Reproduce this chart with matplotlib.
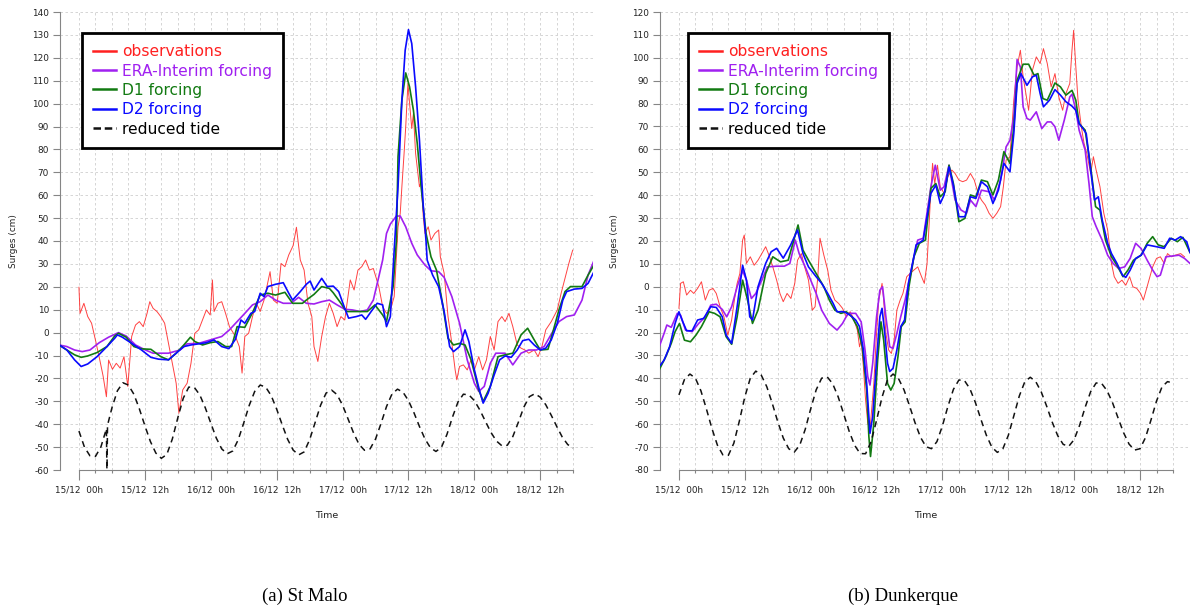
import matplotlib
matplotlib.use("Agg")
import matplotlib.pyplot as plt
from matplotlib.lines import Line2D

# ---------------- data (time in hours from 15/12 00h, surge in cm) ----------------
tick_hours = [0, 12, 24, 36, 48, 60, 72, 84]
tick_labels = ["15/12  00h", "15/12  12h", "16/12  00h", "16/12  12h",
               "17/12  00h", "17/12  12h", "18/12  00h", "18/12  12h"]
minor_hours = [3 * i for i in range(31)]
captions = ["(a) St Malo", "(b) Dunkerque"]
legend_labels = ["observations", "ERA-Interim forcing", "D1 forcing", "D2 forcing", "reduced tide"]

# ---- St Malo ----
stmalo_obs_t = [0, 0.2, 0.9, 1.6, 2.3, 3.0, 3.8, 4.4, 5.0, 5.4, 6.1, 6.8, 7.5, 8.2, 8.9, 9.6, 10.3, 11.0, 11.7,
                12.4, 12.9, 13.5, 14.2, 14.9, 15.6, 16.3, 17.0, 17.7, 18.2, 18.9, 19.7, 20.4, 21.1, 21.8, 22.5,
                23.2, 23.9, 24.3, 24.6, 25.3, 26.0, 26.7, 27.4, 28.5, 29.2, 29.7, 30.2, 30.9, 31.6, 32.3, 33.0,
                33.7, 34.8, 35.4, 36.1, 36.8, 37.5, 38.2, 39.0, 39.6, 40.3, 41.0, 41.7, 42.4, 42.8, 43.5, 44.2,
                44.9, 45.6, 46.3, 47.0, 47.7, 48.4, 49.4, 50.1, 50.8, 51.5, 52.2, 52.9, 53.6, 54.6, 55.3, 56.0,
                56.7, 57.4, 58.1, 58.5, 58.8, 59.2, 59.5, 59.9, 60.1, 60.6, 60.9, 61.3, 62.0, 62.3, 62.7, 63.0,
                63.6, 64.1, 64.8, 65.5, 65.8, 66.5, 67.2, 67.9, 68.5, 68.8, 69.3, 70.0, 70.7, 71.4, 72.0, 72.8,
                73.5, 74.2, 74.9, 75.6, 76.3, 77.0, 77.6, 78.3, 79.0, 79.8, 80.5, 81.2, 81.9, 82.9, 83.6, 84.3,
                85.0, 86.0, 87.1, 87.8, 88.5, 89.2, 89.9]
stmalo_obs_v = [19.8, 8.4, 12.8, 7.0, 4.1, -3.2, -12.0, -19.0, -28.0, -12.0, -16.0, -13.4, -15.5, -10.5, -23.5,
                -1.7, 3.3, 4.8, 2.6, 8.4, 13.5, 10.6, 9.2, 7.0, 4.1, -4.7, -13.4, -22.1, -35.2, -25.0, -22.1,
                -13.4, -0.3, 1.2, 5.5, 9.9, 7.7, 23.0, 9.2, 12.8, 13.5, 8.4, 2.6, -1.7, -6.1, -17.7, -1.7, -0.3,
                7.0, 12.8, 9.2, 14.2, 26.6, 14.2, 12.8, 30.2, 28.8, 33.9, 38.0, 46.0, 31.7, 27.3, 12.8, 7.0,
                -6.1, -12.6, -1.7, 7.0, 12.8, 8.4, 2.6, 7.0, 5.5, 23.0, 18.6, 27.3, 28.8, 31.7, 27.3, 28.0,
                20.1, 11.3, 8.4, 9.9, 15.7, 46.2, 52.0, 63.7, 78.2, 89.9, 108.8, 103.0, 89.1, 95.7, 78.2, 63.7,
                65.9, 50.6, 43.3, 46.2, 40.4, 43.3, 44.8, 33.1, 25.9, 7.0, -4.7, -16.3, -20.6, -14.8, -14.1,
                -16.3, -11.9, -16.3, -10.5, -16.3, -11.9, -1.7, -7.6, 4.8, 7.0, 4.8, 8.4, 2.6, -5.4, -6.8, -7.6,
                -9.0, -7.6, -10.5, -6.1, 1.2, 4.8, 9.9, 17.2, 23.7, 30.2, 36.0]

stmalo_era_t = [-3.6, -2.2, -0.8, 0.6, 2.0, 3.7, 5.4, 7.2, 8.6, 10.3, 12.1, 13.5, 16.3, 18.4, 19.7, 21.8, 23.9,
                26.0, 27.4, 28.8, 30.2, 31.6, 33.0, 34.4, 35.8, 37.2, 38.6, 40.0, 41.4, 42.8, 44.2, 45.6, 47.0,
                48.4, 49.8, 51.2, 52.5, 53.6, 54.6, 55.3, 56.0, 56.7, 57.8, 58.5, 59.5, 60.6, 61.6, 63.0, 64.1,
                65.5, 66.5, 67.9, 69.3, 70.7, 72.0, 72.8, 73.8, 74.9, 75.9, 77.6, 79.0, 80.5, 81.9, 83.3, 84.7,
                86.1, 87.4, 88.8, 90.2, 91.6, 92.7, 93.7]
stmalo_era_v = [-5.4, -6.1, -7.6, -8.3, -7.6, -4.4, -2.0, 0.0, -1.5, -5.4, -7.6, -9.0, -9.0, -7.6, -4.9, -4.7,
                -3.2, -1.7, 1.2, 4.8, 8.4, 12.1, 13.5, 16.4, 14.2, 12.8, 12.8, 15.4, 12.8, 12.5, 13.5, 14.2, 12.1,
                10.2, 9.9, 9.2, 9.9, 14.2, 24.4, 31.7, 43.3, 47.4, 50.9, 50.9, 46.2, 39.0, 33.9, 29.5, 27.0,
                26.6, 24.1, 15.7, 4.1, -11.9, -22.1, -25.7, -23.5, -13.4, -9.0, -9.0, -14.1, -9.0, -7.6, -7.6,
                -6.1, -0.3, 4.8, 7.0, 7.7, 14.2, 25.1, 31.0]

stmalo_d1_t = [-3.6, -2.2, -0.8, 0.4, 1.6, 3.3, 5.1, 6.5, 7.2, 8.6, 10.0, 11.4, 13.1, 14.9, 16.3, 17.7, 19.1,
               20.3, 21.1, 22.5, 23.9, 25.3, 26.7, 27.8, 28.8, 30.2, 31.6, 33.0, 34.4, 35.8, 37.5, 38.9, 40.7,
               41.4, 42.8, 44.2, 45.6, 46.3, 47.7, 48.7, 50.5, 52.5, 53.9, 55.3, 56.0, 57.2, 57.8, 58.1, 58.8,
               59.5, 60.2, 60.9, 61.6, 62.3, 63.2, 64.1, 65.1, 66.2, 67.2, 68.2, 69.3, 70.3, 71.4, 72.8, 73.6,
               74.9, 76.3, 77.6, 79.0, 80.5, 81.7, 82.9, 84.0, 85.4, 86.4, 87.4, 88.5, 89.5, 91.6, 92.7, 93.7]
stmalo_d1_v = [-5.4, -7.6, -9.7, -10.8, -10.2, -8.7, -6.1, -1.5, -0.3, -2.0, -6.1, -7.1, -7.3, -10.5, -11.9,
               -9.0, -5.4, -2.0, -3.9, -5.4, -4.4, -3.9, -6.1, -6.1, 2.6, 2.3, 8.7, 16.4, 17.2, 16.4, 17.6, 12.8,
               12.8, 14.2, 16.7, 20.1, 19.3, 17.4, 12.8, 9.2, 9.2, 9.2, 12.1, 7.7, 4.8, 20.0, 40.0, 76.8, 101.5,
               113.4, 107.3, 97.1, 82.6, 63.7, 43.3, 33.1, 27.3, 12.8, -2.5, -5.4, -4.7, -5.4, -11.9, -25.0,
               -30.1, -23.5, -10.5, -9.7, -9.0, -1.0, 1.9, -3.2, -7.6, -7.3, 1.2, 9.9, 17.9, 20.1, 20.1, 25.1,
               29.2]

stmalo_d2_t = [-3.6, -2.2, -0.8, 0.4, 1.6, 3.3, 5.1, 6.5, 7.0, 7.9, 9.6, 11.4, 13.1, 14.5, 16.3, 17.7, 19.1,
               20.4, 21.8, 23.2, 24.6, 26.0, 27.3, 28.5, 29.5, 30.2, 31.3, 32.0, 33.0, 33.7, 34.4, 35.8, 37.2,
               38.2, 38.9, 40.3, 41.4, 42.1, 42.8, 44.2, 45.2, 46.3, 47.3, 48.4, 49.1, 50.5, 51.5, 52.2, 53.2,
               54.3, 55.3, 56.0, 56.7, 57.4, 58.1, 58.8, 59.4, 60.0, 60.6, 61.3, 62.0, 62.7, 63.2, 63.4, 64.4,
               65.5, 66.5, 67.5, 68.2, 69.3, 70.3, 71.0, 72.0, 72.9, 73.6, 74.5, 75.6, 76.6, 77.6, 78.7, 79.8,
               80.8, 81.9, 82.9, 84.0, 85.0, 86.0, 87.1, 88.1, 88.8, 90.2, 91.6, 92.7, 93.7]
stmalo_d2_v = [-5.4, -7.6, -11.9, -14.8, -13.7, -10.5, -6.1, -2.5, -1.0, -2.0, -4.7, -7.6, -10.8, -11.6, -11.9,
               -9.0, -6.1, -5.4, -4.9, -4.4, -3.2, -6.1, -7.0, -2.9, 5.5, 4.1, 8.4, 9.2, 17.2, 15.7, 20.1, 21.1,
               21.8, 17.2, 14.2, 17.9, 21.1, 22.5, 18.6, 23.7, 20.1, 20.3, 17.9, 10.6, 6.3, 7.0, 7.7, 5.8, 9.2,
               12.8, 12.1, 2.6, 7.0, 36.0, 63.7, 101.5, 123.3, 132.3, 126.2, 107.3, 84.0, 55.0, 40.0, 31.7,
               25.1, 20.0, 9.2, -6.1, -8.3, -6.1, 1.2, -3.9, -16.3, -25.0, -30.8, -26.5, -18.5, -11.9, -10.2,
               -10.8, -7.6, -3.5, -2.9, -5.4, -7.6, -6.8, -3.2, 4.1, 14.2, 17.9, 19.0, 19.3, 21.5, 26.2]

stmalo_tide_t = [0, 1, 2, 3, 4, 5, 5.1, 5.2, 6, 7, 8, 9, 10, 11, 12, 13, 14, 15, 16, 17, 18, 19, 20, 21, 22,
                 23, 24, 25, 26, 27, 28, 29, 30, 31, 32, 33, 34, 35, 36, 37, 38, 39, 40, 41, 42, 43, 44, 45,
                 46, 47, 48, 49, 50, 51, 52, 53, 54, 55, 56, 57, 58, 59, 60, 61, 62, 63, 64, 65, 66, 67, 68,
                 69, 70, 71, 72, 73, 74, 75, 76, 77, 78, 79, 80, 81, 82, 83, 84, 85, 86, 87, 88, 89, 90]
stmalo_tide_v = [-43.0, -50.0, -53.8, -54.1, -49.9, -42.0, -62.0, -40.5, -32.9, -25.4, -21.9, -22.9, -26.9,
                 -33.3, -40.6, -47.5, -52.6, -54.9, -53.2, -46.5, -37.2, -28.6, -23.8, -23.9, -27.2, -32.8,
                 -39.5, -46.0, -50.8, -52.9, -51.7, -46.8, -39.5, -31.8, -25.7, -22.9, -23.8, -27.5, -33.4,
                 -40.2, -46.6, -51.3, -53.4, -52.1, -46.8, -39.3, -31.7, -26.4, -25.1, -27.1, -31.7, -37.7,
                 -43.8, -48.8, -51.4, -50.8, -46.5, -39.7, -32.3, -26.8, -24.7, -26.0, -29.7, -35.0, -41.0,
                 -46.4, -50.3, -51.9, -50.1, -44.5, -37.0, -30.4, -26.9, -27.2, -29.7, -33.8, -38.7, -43.5,
                 -47.3, -49.4, -49.2, -45.4, -39.2, -32.6, -28.0, -26.7, -28.2, -31.5, -36.1, -41.0, -45.6,
                 -48.9, -50.4]

# ---- Dunkerque ----
dunk_obs_t = [0, 0.3, 0.8, 1.4, 2.1, 2.7, 3.4, 4.1, 4.8, 5.5, 6.2, 6.8, 7.5, 8.2, 8.9, 9.6, 10.1, 10.6, 11.1,
              11.6, 11.9, 12.3, 13.0, 13.7, 14.4, 15.1, 15.8, 16.4, 17.1, 17.8, 18.4, 19.0, 19.7, 20.4, 21.1,
              21.6, 22.3, 22.9, 23.6, 24.3, 24.8, 25.3, 25.7, 26.4, 27.1, 27.7, 28.4, 29.1, 29.8, 30.5, 31.2,
              31.8, 32.5, 32.9, 33.2, 33.6, 34.0, 34.4, 34.8, 35.1, 35.5, 36.0, 36.4, 37.0, 37.3, 37.7, 38.2,
              38.7, 39.2, 39.7, 40.3, 40.8, 41.5, 42.1, 42.8, 43.5, 44.2, 44.7, 45.2, 45.8, 46.2, 46.6, 47.1,
              47.6, 48.3, 49.0, 49.7, 50.3, 51.0, 51.7, 52.4, 53.1, 53.8, 54.5, 55.1, 55.8, 56.5, 57.2, 57.9,
              58.6, 59.1, 59.6, 60.3, 61.0, 61.6, 62.2, 62.7, 63.2, 63.7, 64.4, 65.1, 65.8, 66.4, 67.1, 67.8,
              68.5, 69.2, 69.9, 70.5, 71.2, 71.6, 71.9, 72.3, 72.7, 73.3, 73.8, 74.3, 75.0, 75.5, 76.0, 76.7,
              77.4, 78.1, 78.8, 79.3, 80.0, 80.7, 81.4, 82.1, 82.7, 83.4, 84.1, 84.6, 85.1, 85.6, 86.3, 87.0,
              87.7, 88.4, 89.0, 89.7, 90.4, 91.4, 92.1]
dunk_obs_v = [-9.4, 1.5, 2.2, -3.6, -1.5, -2.9, -0.7, 2.2, -5.8, -1.5, -0.7, -2.9, -8.7, -13.1, -21.1, -14.5,
              -5.8, 1.5, 5.8, 20.4, 22.6, 10.2, 13.1, 9.4, 11.6, 14.5, 17.5, 13.8, 8.7, 2.9, -2.9, -6.5, -2.9,
              -5.1, 1.5, 11.6, 14.5, 8.7, 2.9, -10.2, -8.7, 4.4, 21.2, 13.8, 7.3, -1.5, -5.8, -7.3, -9.4,
              -13.1, -10.9, -13.8, -18.9, -26.2, -23.3, -34.9, -49.4, -59.6, -62.5, -53.8, -42.2, -20.3, -5.8,
              1.5, -5.8, -20.3, -27.6, -29.1, -23.3, -10.2, -5.8, -2.9, 4.4, 5.8, 7.3, 8.7, 4.4, 1.5, 10.2,
              37.9, 53.9, 45.1, 53.1, 43.7, 40.8, 48.1, 51.0, 49.5, 46.6, 45.9, 46.6, 49.5, 46.6, 40.8, 37.9,
              35.7, 32.1, 29.9, 32.1, 35.0, 43.7, 55.3, 56.8, 81.5, 96.0, 103.3, 91.7, 84.4, 77.1, 94.6, 100.4,
              97.5, 104.0, 97.5, 87.3, 93.1, 82.9, 77.1, 84.4, 88.8, 103.3, 112.0, 96.0, 81.5, 69.9, 62.6, 58.3,
              49.5, 56.8, 51.0, 43.7, 32.1, 24.8, 10.2, 4.4, 1.5, 2.9, 0.7, 4.4, 0.0, -0.7, -2.9, -5.8, -1.5,
              2.9, 8.7, 12.4, 13.1, 10.2, 14.5, 13.1, 13.8, 14.5, 13.1]

dunk_era_t = [-3.6, -2.7, -2.2, -1.4, -0.3, 0.3, 1.2, 2.4, 3.6, 4.8, 5.8, 6.8, 7.9, 8.7, 9.6, 10.6, 11.6, 12.3,
              13.2, 14.0, 15.1, 16.1, 17.8, 19.2, 20.2, 21.2, 21.9, 23.0, 24.0, 25.0, 26.0, 27.4, 28.8, 29.8,
              30.8, 32.2, 33.2, 33.9, 34.4, 34.8, 35.3, 36.0, 36.6, 37.1, 37.7, 38.4, 39.0, 39.7, 40.4, 41.2,
              42.1, 42.8, 43.5, 44.5, 45.9, 46.7, 47.6, 48.3, 49.2, 50.3, 51.4, 52.4, 53.1, 54.1, 55.1, 56.5,
              57.5, 58.6, 59.6, 60.3, 61.0, 61.6, 62.2, 62.7, 63.4, 64.0, 65.1, 66.1, 67.1, 67.8, 68.5, 69.2,
              70.2, 71.2, 71.6, 72.3, 72.9, 74.0, 74.7, 75.3, 76.0, 77.1, 78.1, 79.1, 80.1, 81.2, 82.2, 83.2,
              84.2, 85.3, 86.3, 87.1, 87.7, 88.7, 89.7, 91.1, 92.1, 93.1]
dunk_era_v = [-26.2, -20.3, -16.7, -17.7, -11.6, -12.4, -18.9, -19.6, -16.0, -13.1, -8.0, -7.6, -9.9, -13.1,
              -8.7, 0.0, 7.0, 2.9, -5.1, -2.9, 2.9, 8.7, 9.0, 9.0, 10.2, 20.4, 14.5, 8.7, 2.9, -2.9, -10.2,
              -16.0, -18.9, -16.0, -11.6, -11.6, -15.3, -27.6, -39.2, -42.9, -33.4, -13.1, -1.5, 0.0, -13.1,
              -26.2, -26.9, -20.3, -13.1, -5.8, 4.4, 13.1, 20.4, 21.2, 43.7, 53.1, 42.2, 43.7, 53.1, 37.9,
              33.5, 32.1, 37.9, 35.0, 42.2, 41.5, 37.9, 46.6, 61.1, 64.0, 74.2, 99.2, 96.0, 78.6, 73.5, 72.8,
              76.4, 69.1, 72.0, 72.0, 69.9, 64.0, 72.8, 82.9, 84.1, 77.1, 68.4, 59.7, 45.1, 30.6, 26.3, 20.4,
              13.8, 10.2, 8.0, 8.7, 12.4, 19.0, 16.7, 11.6, 7.3, 4.4, 5.1, 13.1, 13.4, 13.8, 12.4, 10.2]

dunk_d1_t = [-3.6, -2.4, -1.4, -0.7, 0.1, 1.0, 2.1, 3.1, 4.1, 5.5, 6.5, 7.5, 8.6, 9.6, 10.6, 11.6, 12.5, 13.4,
             14.4, 15.8, 17.1, 18.5, 19.9, 21.7, 22.6, 23.6, 25.0, 26.4, 27.4, 28.4, 29.5, 30.5, 31.5, 32.5,
             33.4, 34.2, 34.6, 34.9, 35.5, 36.2, 36.8, 37.3, 38.0, 38.6, 39.2, 39.9, 40.5, 41.2, 41.9, 42.8,
             43.8, 44.9, 45.9, 46.8, 47.6, 48.5, 49.2, 50.0, 51.0, 52.1, 53.1, 54.1, 55.1, 56.2, 57.2, 58.2,
             59.2, 60.3, 61.0, 61.6, 62.7, 63.7, 64.7, 65.4, 66.3, 67.1, 68.5, 69.5, 70.5, 71.6, 72.3, 72.9,
             74.0, 75.0, 75.9, 76.7, 77.7, 78.8, 79.8, 80.9, 81.8, 82.8, 84.2, 85.3, 86.3, 87.3, 88.4, 89.7,
             90.8, 91.8, 93.1]
dunk_d1_v = [-36.3, -30.5, -24.7, -19.6, -16.0, -23.3, -24.0, -21.1, -17.4, -10.9, -11.6, -13.1, -21.8, -25.1,
             -13.1, 2.9, -5.8, -16.0, -10.2, 5.8, 13.1, 10.9, 11.6, 27.0, 16.0, 11.6, 5.8, 0.0, -5.8, -10.2,
             -11.6, -10.9, -13.1, -17.4, -26.2, -45.1, -65.4, -74.1, -59.6, -32.0, -15.3, -23.3, -42.2, -45.1,
             -42.2, -30.5, -17.4, -15.3, 0.0, 13.1, 19.0, 20.4, 43.0, 45.1, 39.3, 41.5, 53.1, 45.1, 28.4, 29.9,
             40.1, 39.3, 46.6, 45.9, 40.1, 46.6, 59.0, 53.9, 69.9, 90.2, 97.2, 97.2, 92.4, 93.1, 82.2, 81.5,
             89.0, 87.3, 83.7, 85.8, 81.5, 71.3, 68.4, 52.4, 35.0, 33.5, 20.4, 13.1, 9.4, 4.4, 7.3, 11.6, 13.8,
             19.0, 21.9, 18.3, 17.5, 21.2, 19.7, 21.6, 15.0]

dunk_d2_t = [-3.6, -2.7, -1.7, -0.7, 0.0, 0.7, 1.4, 2.4, 3.4, 4.5, 5.8, 6.8, 7.9, 8.6, 9.6, 10.6, 11.6, 12.3,
             12.9, 13.4, 14.4, 15.8, 16.8, 17.8, 19.0, 20.3, 21.6, 22.6, 23.6, 25.0, 26.0, 27.1, 28.1, 28.8,
             30.1, 31.2, 32.2, 32.9, 33.6, 34.2, 34.8, 35.3, 36.0, 36.6, 37.0, 37.5, 38.0, 38.4, 39.0, 39.7,
             40.4, 41.1, 41.8, 42.8, 43.2, 44.5, 45.9, 46.8, 47.6, 48.3, 49.2, 50.0, 51.0, 52.1, 53.1, 54.1,
             55.1, 56.2, 57.2, 58.2, 59.2, 60.3, 61.0, 61.6, 62.3, 63.4, 64.4, 65.1, 65.8, 66.4, 67.5, 68.5,
             69.5, 70.5, 71.6, 72.3, 72.9, 73.6, 74.2, 75.0, 75.7, 76.4, 77.1, 78.1, 78.8, 79.8, 80.8, 81.4,
             82.2, 83.2, 84.2, 85.3, 87.0, 88.4, 89.4, 90.4, 91.4, 92.5, 93.1]
dunk_d2_v = [-34.9, -32.0, -26.2, -16.0, -10.9, -15.3, -19.2, -19.2, -14.5, -13.8, -8.7, -9.0, -13.1, -21.1,
             -24.7, -8.7, 9.4, 2.9, -13.1, -14.5, 0.0, 10.2, 15.3, 16.8, 12.5, 18.0, 24.8, 14.5, 8.7, 4.4, 1.5,
             -2.9, -7.3, -10.9, -10.9, -12.4, -14.5, -17.4, -27.6, -42.2, -64.0, -56.7, -32.0, -13.1, -9.4,
             -20.3, -33.4, -37.0, -35.6, -27.6, -17.4, -14.5, 1.5, 13.1, 18.3, 20.4, 40.8, 44.4, 36.4, 40.1,
             52.4, 44.4, 30.6, 30.6, 39.3, 38.6, 45.9, 43.7, 36.4, 42.2, 53.9, 50.2, 66.9, 88.8, 93.1, 88.0,
             91.7, 92.4, 84.4, 78.6, 81.5, 86.1, 83.7, 80.8, 78.9, 77.1, 71.3, 69.1, 66.9, 51.0, 37.9, 39.3,
             29.2, 19.0, 14.5, 10.2, 5.1, 4.1, 7.3, 12.4, 13.8, 18.3, 17.5, 16.8, 21.2, 20.4, 21.9, 19.7, 15.0]

dunk_tide_t = list(range(0, 91))
dunk_tide_v = [-47.2, -40.5, -38.1, -39.9, -45.4, -53.3, -61.8, -69.1, -73.4, -73.6, -68.3, -58.7, -48.1, -39.9,
               -36.8, -38.6, -43.6, -50.9, -58.9, -66.0, -70.7, -72.2, -69.2, -62.3, -53.3, -45.0, -39.9, -39.3,
               -42.3, -48.0, -55.4, -63.0, -69.2, -72.8, -72.9, -67.7, -58.3, -48.2, -40.5, -38.1, -40.1, -45.0,
               -51.9, -59.3, -65.7, -69.8, -70.7, -67.6, -60.7, -52.2, -44.8, -40.7, -40.9, -44.5, -50.5, -57.8,
               -64.8, -70.0, -72.3, -70.8, -64.9, -56.4, -47.7, -41.5, -39.5, -41.4, -45.9, -52.2, -59.1, -65.0,
               -68.8, -69.7, -66.7, -60.4, -52.6, -45.8, -42.0, -42.2, -45.4, -50.7, -57.3, -63.7, -68.7, -71.3,
               -70.7, -65.8, -58.1, -49.9, -43.7, -41.4, -42.0]

# ---------------- styling ----------------
C_OBS = "#ff2020"
C_ERA = "#a020f0"
C_D1 = "#127a12"
C_D2 = "#0a0aff"
C_TIDE = "#111111"
GRID_C = "#cfcfcf"
AXIS_C = "#858585"

W, H = 1190, 610
fig = plt.figure(figsize=(W / 100, H / 100), dpi=100)


def make_panel(left_px, right_px, xmax, ylo, yhi, obs, era, d1, d2, tide, leg_x_px):
    ax = fig.add_axes([left_px / W, 140 / H, (right_px - left_px) / W, 458 / H])
    ax.set_xlim(-3.45, xmax)
    ax.set_ylim(ylo, yhi)
    yt = list(range(ylo, yhi + 1, 10))
    ax.set_yticks(yt)
    ax.set_yticklabels([str(v) for v in yt])
    ax.set_xticks(tick_hours)
    ax.set_xticklabels(tick_labels)
    ax.set_xticks(minor_hours, minor=True)
    ax.grid(True, which="both", color=GRID_C, linestyle=(0, (3, 3)), linewidth=0.6)
    ax.set_axisbelow(True)
    for s in ("top", "right"):
        ax.spines[s].set_visible(False)
    ax.spines["left"].set_color(AXIS_C)
    ax.spines["bottom"].set_color(AXIS_C)
    ax.spines["bottom"].set_bounds(0, 90)
    ax.tick_params(axis="both", which="major", length=5, width=0.8, color=AXIS_C,
                   labelsize=6.4, labelcolor="#222222", pad=3)
    ax.tick_params(axis="x", which="minor", length=2.5, width=0.8, color=AXIS_C)
    ax.tick_params(axis="x", which="major", length=7, pad=4)

    ax.plot(obs[0], obs[1], color=C_OBS, lw=0.7, alpha=0.85, zorder=3)
    ax.plot(era[0], era[1], color=C_ERA, lw=1.2, zorder=4)
    ax.plot(d1[0], d1[1], color=C_D1, lw=1.2, zorder=5)
    ax.plot(d2[0], d2[1], color=C_D2, lw=1.2, zorder=6)
    ax.plot(tide[0], tide[1], color=C_TIDE, lw=1.1, linestyle=(0, (4, 3)), zorder=7)

    handles = [Line2D([0], [0], color=C_OBS, lw=1.8),
               Line2D([0], [0], color=C_ERA, lw=1.8),
               Line2D([0], [0], color=C_D1, lw=1.8),
               Line2D([0], [0], color=C_D2, lw=1.8),
               Line2D([0], [0], color=C_TIDE, lw=1.8, linestyle=(0, (3, 1.5)))]
    leg = ax.legend(handles, legend_labels, loc="upper left",
                    bbox_to_anchor=((leg_x_px - left_px) / (right_px - left_px), (470 - 33) / 458),
                    borderaxespad=0, fancybox=False, framealpha=1, edgecolor="black",
                    fontsize=11.2, handlelength=1.45, handletextpad=0.4, labelspacing=0.28,
                    borderpad=0.72)
    leg.get_frame().set_linewidth(2)
    for txt, c in zip(leg.get_texts(), [C_OBS, C_ERA, C_D1, C_D2, "black"]):
        txt.set_color(c)
    leg.set_zorder(10)
    return ax


axL = make_panel(60, 593, 93.6, -60, 140,
                 (stmalo_obs_t, stmalo_obs_v), (stmalo_era_t, stmalo_era_v),
                 (stmalo_d1_t, stmalo_d1_v), (stmalo_d2_t, stmalo_d2_v),
                 (stmalo_tide_t, stmalo_tide_v), 82)
axR = make_panel(660, 1190, 93.1, -80, 120,
                 (dunk_obs_t, dunk_obs_v), (dunk_era_t, dunk_era_v),
                 (dunk_d1_t, dunk_d1_v), (dunk_d2_t, dunk_d2_v),
                 (dunk_tide_t, dunk_tide_v), 688)

for xc in (14, 614):
    fig.text(xc / W, 1 - 241 / H, "Surges (cm)", rotation=90, ha="center", va="center",
             fontsize=6.4, color="#222222")
for xc in (327, 926):
    fig.text(xc / W, 1 - 516 / H, "Time", ha="center", va="center", fontsize=6.8, color="#222222")

fig.text(305 / W, 1 - 596 / H, captions[0], ha="center", va="center",
         fontsize=13.5, family="Liberation Serif")
fig.text(903 / W, 1 - 596 / H, captions[1], ha="center", va="center",
         fontsize=13.5, family="Liberation Serif")

fig.savefig("out.png", dpi=100)
